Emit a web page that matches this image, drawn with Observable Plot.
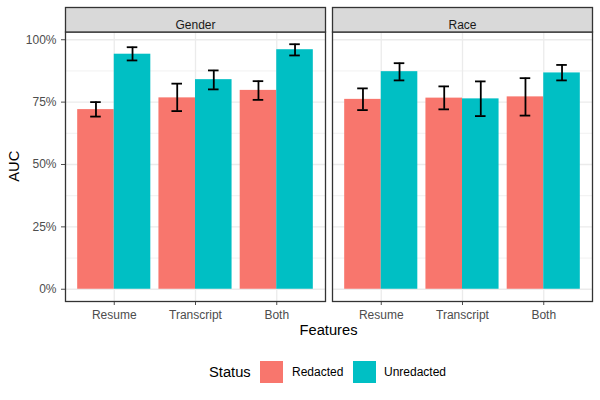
<!DOCTYPE html>
<html>
<head>
<meta charset="utf-8">
<script src="https://cdn.jsdelivr.net/npm/d3@7"></script>
<script src="https://cdn.jsdelivr.net/npm/@observablehq/plot@0.6"></script>
<style>
  html, body { margin: 0; padding: 0; background: #ffffff; }
  #fig { width: 600px; font-family: "Liberation Sans", Arial, Helvetica, sans-serif; }
  #legend { position: relative; width: 600px; height: 55px; }
  #legend .t { position: absolute; white-space: nowrap; line-height: 1; }
  #legend .sw { position: absolute; width: 23px; height: 22px; }
</style>
</head>
<body>
<div id="fig"></div>
<script>
// ---- data ----
const panels = ["Gender", "Race"];
const features = ["Resume", "Transcript", "Both"];
const statuses = ["Redacted", "Unredacted"];

const genderRedactedAUC   = [0.720, 0.767, 0.797];
const genderRedactedLow   = [0.692, 0.714, 0.759];
const genderRedactedHigh  = [0.750, 0.824, 0.834];
const genderUnredactedAUC  = [0.942, 0.840, 0.960];
const genderUnredactedLow  = [0.917, 0.801, 0.937];
const genderUnredactedHigh = [0.970, 0.877, 0.982];

const raceRedactedAUC   = [0.761, 0.766, 0.771];
const raceRedactedLow   = [0.718, 0.721, 0.696];
const raceRedactedHigh  = [0.805, 0.813, 0.846];
const raceUnredactedAUC  = [0.872, 0.763, 0.867];
const raceUnredactedLow  = [0.837, 0.694, 0.837];
const raceUnredactedHigh = [0.906, 0.833, 0.899];

const yTicks = [0, 0.25, 0.5, 0.75, 1];
const yMinorTicks = [0.125, 0.375, 0.625, 0.875];
const statusColors = ["#F8766D", "#00BFC4"];

// ---- build table ----
const series = {
  Gender: {
    Redacted: [genderRedactedAUC, genderRedactedLow, genderRedactedHigh],
    Unredacted: [genderUnredactedAUC, genderUnredactedLow, genderUnredactedHigh]
  },
  Race: {
    Redacted: [raceRedactedAUC, raceRedactedLow, raceRedactedHigh],
    Unredacted: [raceUnredactedAUC, raceUnredactedLow, raceUnredactedHigh]
  }
};
const data = [];
panels.forEach(p => features.forEach((f, i) => statuses.forEach((s, j) => {
  const [a, lo, hi] = series[p][s];
  data.push({panel: p, feature: f, fi: i + 1, status: s, sj: j, auc: a[i], lo: lo[i], hi: hi[i]});
})));

const dodge = 0.9, bw = dodge / 2, cap = 0.065;
const left = d => d.fi - dodge / 2 + bw * d.sj;
const center = d => left(d) + bw / 2;

const W = 600, H = 345, mT = 31.5, mB = 44, mL = 65, mR = 8;
const panelH = H - mT - mB;

const chart = Plot.plot({
  width: W, height: H,
  marginTop: mT, marginBottom: mB, marginLeft: mL, marginRight: mR,
  style: {fontFamily: '"Liberation Sans", Arial, Helvetica, sans-serif', fontSize: "12px", color: "#4d4d4d", background: "#ffffff"},
  facet: {data, x: "panel"},
  fx: {domain: panels, axis: null, label: null, paddingInner: 7 / 267, paddingOuter: 0},
  x: {domain: [0.4, 3.6], ticks: [1, 2, 3], tickFormat: i => features[i - 1], tickSize: 4, label: null},
  y: {domain: [-0.0491, 1.031], ticks: yTicks, tickFormat: d => Math.round(d * 100) + "%", tickSize: 4, label: null},
  color: {domain: statuses, range: statusColors},
  marks: [
    Plot.ruleY(yMinorTicks, {stroke: "#ebebeb", strokeWidth: 0.7}),
    Plot.ruleY(yTicks, {stroke: "#ebebeb", strokeWidth: 1.3}),
    Plot.ruleX([1, 2, 3], {stroke: "#ebebeb", strokeWidth: 1.3}),
    Plot.rect(data, {x1: left, x2: d => left(d) + bw, y1: () => 0, y2: "auc", fill: "status"}),
    Plot.ruleX(data, {x: center, y1: "lo", y2: "hi", stroke: "#000000", strokeWidth: 1.8}),
    Plot.ruleY(data, {y: "hi", x1: d => center(d) - cap, x2: d => center(d) + cap, stroke: "#000000", strokeWidth: 1.8}),
    Plot.ruleY(data, {y: "lo", x1: d => center(d) - cap, x2: d => center(d) + cap, stroke: "#000000", strokeWidth: 1.8}),
    Plot.frame({stroke: "#333333", strokeWidth: 1.3}),
    Plot.frame({fill: "#d9d9d9", stroke: "#333333", strokeWidth: 1.3, insetTop: -24.5, insetBottom: panelH}),
    Plot.text(data, {filter: d => d.fi === 1 && d.sj === 0, text: "panel", frameAnchor: "top", dy: -12, fill: "#1a1a1a", fontSize: 12})
  ]
});

// axis titles as SVG text
const svg = d3.select(chart);
svg.append("text")
  .attr("transform", `translate(14,${(mT + H - mB) / 2}) rotate(-90)`)
  .attr("text-anchor", "middle").attr("dy", "0.35em")
  .attr("fill", "#000000").attr("font-size", 14.7)
  .attr("font-family", '"Liberation Sans", Arial, sans-serif')
  .text("AUC");
svg.append("text")
  .attr("x", (mL + W - mR) / 2).attr("y", 334.5)
  .attr("text-anchor", "middle")
  .attr("fill", "#000000").attr("font-size", 14.7)
  .attr("font-family", '"Liberation Sans", Arial, sans-serif')
  .text("Features");

const fig = document.getElementById("fig");
fig.appendChild(chart);

// legend below the SVG
const legend = document.createElement("div");
legend.id = "legend";
const cy = 27;
const items = [
  {type: "t", text: "Status", x: 209, size: 14.7, color: "#000000"},
  {type: "sw", color: statusColors[0], x: 260},
  {type: "t", text: statuses[0], x: 292, size: 12, color: "#000000"},
  {type: "sw", color: statusColors[1], x: 353},
  {type: "t", text: statuses[1], x: 384, size: 12, color: "#000000"}
];
items.forEach(it => {
  const el = document.createElement("div");
  el.className = it.type;
  el.style.left = it.x + "px";
  if (it.type === "sw") {
    el.style.background = it.color;
    el.style.top = (cy - 11) + "px";
  } else {
    el.textContent = it.text;
    el.style.fontSize = it.size + "px";
    el.style.color = it.color;
    el.style.top = (cy - it.size * 0.5) + "px";
  }
  legend.appendChild(el);
});
fig.appendChild(legend);
</script>
</body>
</html>
